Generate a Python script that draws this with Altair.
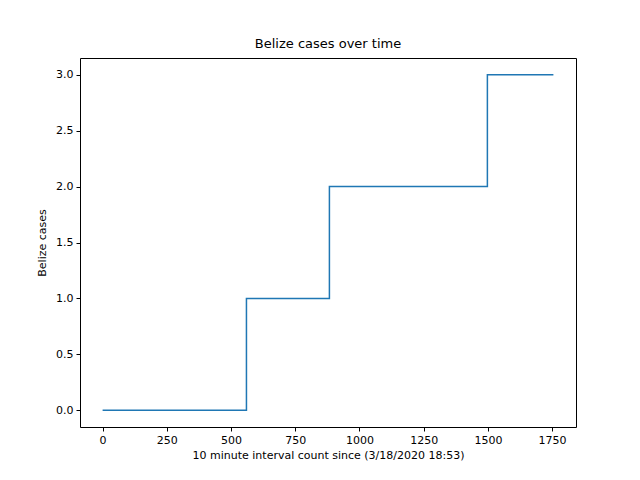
import altair as alt
import pandas as pd

interval = [0, 560, 883, 1498, 1755]
cases = [0, 1, 2, 3, 3]

df = pd.DataFrame({"interval": interval, "cases": cases})

font = "DejaVu Sans"

chart = alt.Chart(df).mark_line(interpolate="step-after", color="#1f77b4", strokeWidth=1.5).encode(
    x=alt.X("interval:Q", title="10 minute interval count since (3/18/2020 18:53)",
            scale=alt.Scale(domain=[-88, 1843], nice=False, zero=False),
            axis=alt.Axis(values=[0, 250, 500, 750, 1000, 1250, 1500, 1750], format="d", grid=False,
                          domain=False, tickColor="black", labelColor="black", titleColor="black",
                          labelFontSize=11, titleFontSize=11, titleFontWeight="normal",
                          labelFont=font, titleFont=font, tickSize=4, labelPadding=3, titlePadding=4)),
    y=alt.Y("cases:Q", title="Belize cases",
            scale=alt.Scale(domain=[-0.15, 3.15], nice=False, zero=False),
            axis=alt.Axis(values=[0, 0.5, 1, 1.5, 2, 2.5, 3], format=".1f", grid=False,
                          domain=False, tickColor="black", labelColor="black", titleColor="black",
                          labelFontSize=11, titleFontSize=11, titleFontWeight="normal",
                          labelFont=font, titleFont=font, tickSize=4, labelPadding=3, titlePadding=8)),
).properties(
    width=496,
    height=369,
    title=alt.TitleParams("Belize cases over time", font=font, fontSize=13,
                          fontWeight="normal", color="black", offset=7),
    autosize=alt.AutoSizeParams(type="none"),
    padding={"left": 72, "top": 50, "right": 56, "bottom": 45},
).configure_view(stroke="black", strokeWidth=1)

chart.save("out.html", embed_options={"renderer": "svg", "actions": False})
